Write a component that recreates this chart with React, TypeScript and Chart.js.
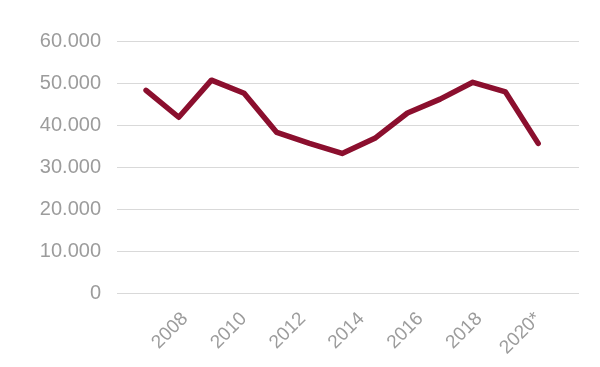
import React, { useEffect, useRef } from "react";
import { Chart, registerables } from "chart.js";

Chart.register(...registerables);

const years = [2008, 2009, 2010, 2011, 2012, 2013, 2014, 2015, 2016, 2017, 2018, 2019, 2020];
const values = [48300, 41900, 50700, 47600, 38300, 35700, 33300, 36900, 42900, 46200, 50200, 47900, 35700];
const labelYears = [2008, 2010, 2012, 2014, 2016, 2018, 2020];
const labelTexts = ["2008", "2010", "2012", "2014", "2016", "2018", "2020*"];
const yTicks = [0, 10000, 20000, 30000, 40000, 50000, 60000];

const fmt = (v: number) => String(v).replace(/\B(?=(\d{3})+(?!\d))/g, ".");

export default function App() {
  const ref = useRef<HTMLCanvasElement>(null);
  useEffect(() => {
    document.body.style.margin = "0";
    const ctx = ref.current!;
    const textColor = "#9c9c9c";
    const font = { family: "'Liberation Sans', Arial, sans-serif", size: 20 };
    const chart = new Chart(ctx, {
      type: "line",
      data: {
        datasets: [
          {
            data: years.map((y, i) => ({ x: y, y: values[i] })),
            borderColor: "#8B0F2E",
            borderWidth: 5.5,
            pointRadius: 0,
            borderCapStyle: "round",
            borderJoinStyle: "round",
            tension: 0,
            xAxisID: "x",
            yAxisID: "y",
          },
        ],
      },
      options: {
        animation: false,
        responsive: false,
        maintainAspectRatio: false,
        layout: { padding: { left: 0, right: 21, top: 41, bottom: 2 } },
        plugins: { legend: { display: false }, tooltip: { enabled: false } },
        scales: {
          x: { type: "linear", display: false, min: 2007.11, max: 2021.25 },
          xl: {
            type: "linear",
            position: "bottom",
            min: 2005.69,
            max: 2021.39,
            grid: { display: false },
            border: { display: false },
            afterBuildTicks: (s: any) => {
              s.ticks = labelYears.map((v) => ({ value: v }));
            },
            ticks: {
              autoSkip: false,
              maxRotation: 45,
              minRotation: 45,
              color: textColor,
              font: { ...font, size: 19 },
              padding: 6,
              callback: (_v: any, i: number) => labelTexts[i],
            },
          },
          y: {
            min: 0,
            max: 60000,
            afterBuildTicks: (s: any) => {
              s.ticks = yTicks.map((v) => ({ value: v }));
            },
            afterFit: (s: any) => {
              s.width = 117;
            },
            grid: { color: "#d9d9d9", lineWidth: 1, drawTicks: false },
            border: { display: false },
            ticks: {
              color: textColor,
              font,
              padding: 16,
              callback: (v: any) => fmt(Number(v)),
            },
          },
        },
      },
    } as any);
    return () => chart.destroy();
  }, []);
  return (
    <div style={{ width: 600, height: 367 }}>
      <canvas ref={ref} width={600} height={367} style={{ display: "block" }} />
    </div>
  );
}
